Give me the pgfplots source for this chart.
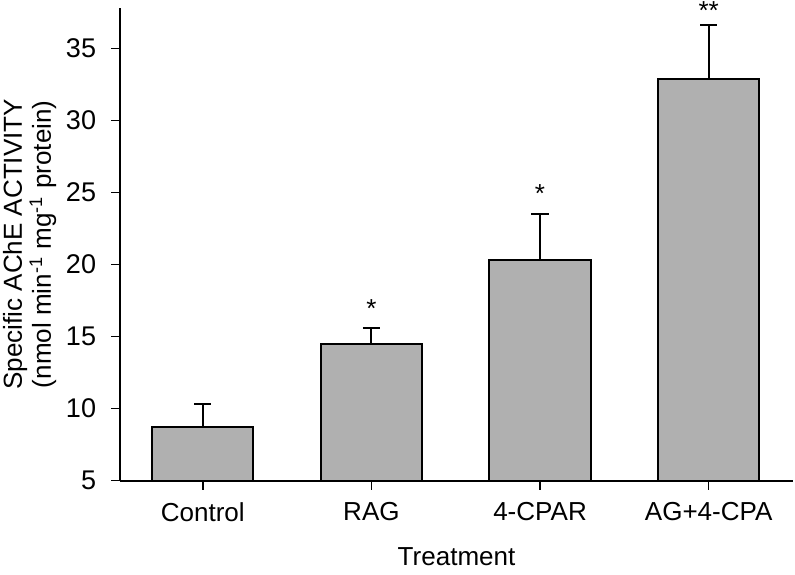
\documentclass[border=0pt]{standalone}
\usepackage{pgfplots}
\pgfplotsset{compat=1.18}
\usepackage{fontspec}
\setmainfont{Liberation Sans}
\begin{document}
\begin{tikzpicture}
\begin{axis}[
  scale only axis,
  width=336pt, height=236pt,
  xmin=-0.49, xmax=3.5,
  ymin=5, ymax=37.8,
  axis x line=bottom, axis y line=left,
  axis line style={-, line width=1pt},
  xtick={0,1,2,3},
  xticklabels={Control,RAG,4-CPAR,AG+4-CPA},
  ytick={5,10,15,20,25,30,35},
  tick style={black, line width=0.8pt},
  tick align=outside,
  major tick length=4.5pt,
  /pgf/number format/assume math mode=true,
  yticklabel style={font=\fontsize{13.5}{15}\selectfont, xshift=-4pt},
  xticklabel style={font=\fontsize{13}{15}\selectfont, yshift=-3pt},
  xlabel={Treatment},
  ylabel={Specific AChE ACTIVITY\\(nmol min\textsuperscript{-1} mg\textsuperscript{-1} protein)},
  xlabel style={font=\fontsize{13}{15}\selectfont, yshift=-6pt},
  ylabel style={font=\fontsize{13}{14.5}\selectfont, align=center, yshift=-2pt},
  clip=false,
]
\addplot[ybar, bar width=0.6, fill=black!31, draw=black, line width=1pt,
  error bars/.cd, y dir=plus, y explicit,
  error bar style={line width=1pt},
  error mark options={rotate=90, mark size=4.3pt, line width=1pt}]
  coordinates {
    (0,8.75) +- (0,1.55)
    (1,14.5) +- (0,1.06)
    (2,20.3) +- (0,3.2)
    (3,32.9) +- (0,3.7)
  };
\addplot[draw=none, mark=none, nodes near coords, point meta=explicit symbolic,
  every node near coord/.style={font=\fontsize{13}{15}\selectfont, anchor=south, yshift=2pt}]
  coordinates {
    (1,15.56) [*]
    (2,23.5) [*]
    (3,36.25) [**]
  };
\end{axis}
\pgfresetboundingbox
\path[use as bounding box] ([shift={(-60pt,-47pt)}]current axis.south west) rectangle ([shift={(1pt,4pt)}]current axis.north east);
\end{tikzpicture}
\end{document}
